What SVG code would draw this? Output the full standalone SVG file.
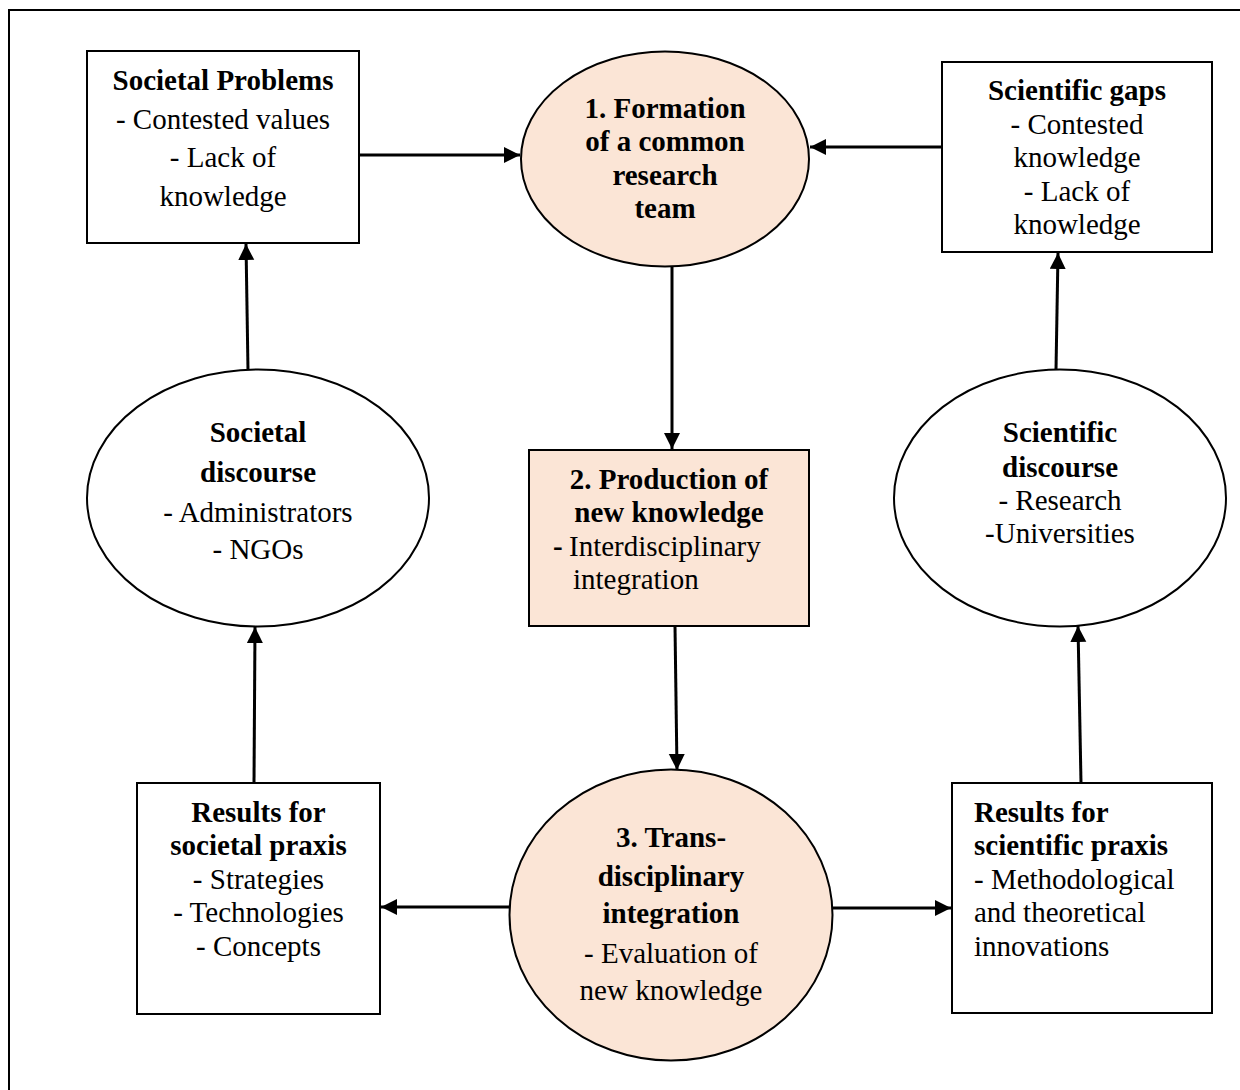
<svg xmlns="http://www.w3.org/2000/svg" width="1240" height="1090" viewBox="0 0 1240 1090">
<style>
text{font-family:"Liberation Serif","Times New Roman",serif;font-size:29px;fill:#000}
.b{font-weight:bold}
.c{text-anchor:middle}
.box{fill:#fff;stroke:#000;stroke-width:2}
.hl{fill:#FBE5D6;stroke:#000;stroke-width:2}
.arr{stroke:#000;stroke-width:3;fill:none;marker-end:url(#ah)}
</style>
<defs>
<marker id="ah" markerUnits="userSpaceOnUse" markerWidth="18" markerHeight="18" refX="16" refY="8" orient="auto">
<path d="M0,0 L16,8 L0,16 z" fill="#000"/>
</marker>
</defs>
<rect width="1240" height="1090" fill="#fff"/>
<path d="M9,1090 V10 H1240" fill="none" stroke="#000" stroke-width="2"/>

<g id="connectors">
<line class="arr" x1="359" y1="155" x2="520" y2="155"/>
<line class="arr" x1="942" y1="147" x2="810" y2="147"/>
<line class="arr" x1="672" y1="267" x2="672" y2="449"/>
<line class="arr" x1="675" y1="626" x2="677" y2="770"/>
<line class="arr" x1="510" y1="907" x2="381" y2="907"/>
<line class="arr" x1="833" y1="908" x2="951" y2="908"/>
<line class="arr" x1="254" y1="783" x2="255" y2="627"/>
<line class="arr" x1="248" y1="370" x2="246" y2="244"/>
<line class="arr" x1="1081" y1="783" x2="1078" y2="626"/>
<line class="arr" x1="1056" y1="370" x2="1058" y2="253"/>
</g>

<g id="societal-problems">
<rect class="box" x="87" y="51" width="272" height="192"/>
<text class="b c" x="223" y="90">Societal Problems</text>
<text class="c" x="223" y="128.5">- Contested values</text>
<text class="c" x="223" y="167">- Lack of</text>
<text class="c" x="223" y="205.5">knowledge</text>
</g>

<g id="formation">
<ellipse class="hl" cx="665" cy="159" rx="144" ry="107.5"/>
<text class="b c" x="665" y="117.5">1. Formation</text>
<text class="b c" x="665" y="151">of a common</text>
<text class="b c" x="665" y="184.5">research</text>
<text class="b c" x="665" y="218">team</text>
</g>

<g id="scientific-gaps">
<rect class="box" x="942" y="62" width="270" height="190"/>
<text class="b c" x="1077" y="100">Scientific gaps</text>
<text class="c" x="1077" y="133.5">- Contested</text>
<text class="c" x="1077" y="167">knowledge</text>
<text class="c" x="1077" y="200.5">- Lack of</text>
<text class="c" x="1077" y="234">knowledge</text>
</g>

<g id="societal-discourse">
<ellipse class="box" cx="258" cy="498" rx="171" ry="128.5"/>
<text class="b c" x="258" y="442">Societal</text>
<text class="b c" x="258" y="481.5">discourse</text>
<text class="c" x="258" y="521.5">- Administrators</text>
<text class="c" x="258" y="558.5">- NGOs</text>
</g>

<g id="production">
<rect class="hl" x="529" y="450" width="280" height="176"/>
<text class="b c" x="669" y="488.5">2. Production of</text>
<text class="b c" x="669" y="522">new knowledge</text>
<text class="b" x="553" y="555.5">-</text>
<text x="569" y="555.5">Interdisciplinary</text>
<text x="573" y="589">integration</text>
</g>

<g id="scientific-discourse">
<ellipse class="box" cx="1060" cy="498" rx="166" ry="128.5"/>
<text class="b c" x="1060" y="442">Scientific</text>
<text class="b c" x="1060" y="476.5">discourse</text>
<text class="c" x="1060" y="510">- Research</text>
<text class="c" x="1060" y="543">-Universities</text>
</g>

<g id="results-societal">
<rect class="box" x="137" y="783" width="243" height="231"/>
<text class="b c" x="258.5" y="821.5">Results for</text>
<text class="b c" x="258.5" y="855">societal praxis</text>
<text class="c" x="258.5" y="888.5">- Strategies</text>
<text class="c" x="258.5" y="922">- Technologies</text>
<text class="c" x="258.5" y="955.5">- Concepts</text>
</g>

<g id="transdisciplinary">
<ellipse class="hl" cx="671" cy="915" rx="161.5" ry="145.5"/>
<text class="b c" x="671" y="847">3. Trans-</text>
<text class="b c" x="671" y="885.5">disciplinary</text>
<text class="b c" x="671" y="923">integration</text>
<text class="c" x="671" y="962.5">- Evaluation of</text>
<text class="c" x="671" y="1000">new knowledge</text>
</g>

<g id="results-scientific">
<rect class="box" x="952" y="783" width="260" height="230"/>
<text class="b" x="974" y="821.5">Results for</text>
<text class="b" x="974" y="855">scientific praxis</text>
<text x="974" y="888.5">- Methodological</text>
<text x="974" y="922">and theoretical</text>
<text x="974" y="955.5">innovations</text>
</g>
</svg>
